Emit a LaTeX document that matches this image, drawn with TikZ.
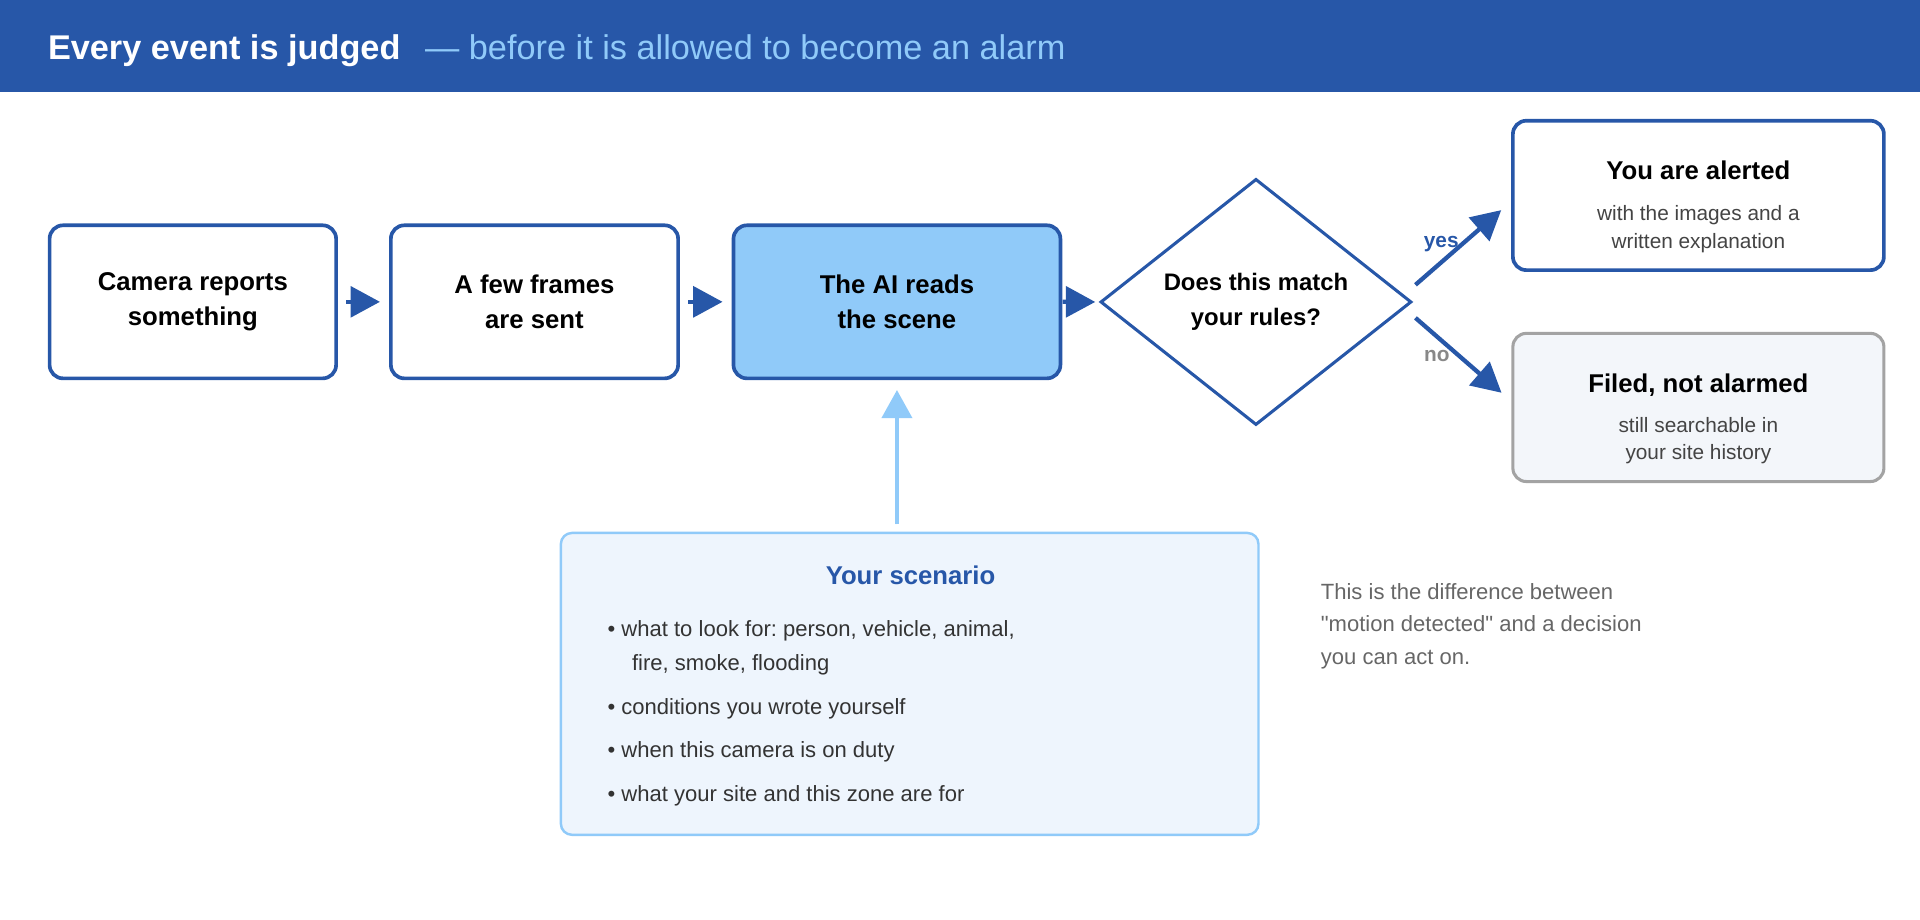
\documentclass[tikz,border=0pt]{standalone}
\usepackage{fontspec}
\setmainfont{Liberation Sans}[Ligatures=TeXOff]
\usetikzlibrary{arrows.meta,shapes.geometric}
\definecolor{hblue}{HTML}{2757A8}
\definecolor{lblue}{HTML}{90CAF9}
\definecolor{scenfill}{HTML}{EEF5FD}
\definecolor{filedfill}{HTML}{F3F6FA}
\definecolor{filedgray}{HTML}{A3A3A3}
\definecolor{subgray}{HTML}{444444}
\definecolor{notegray}{HTML}{666666}
\definecolor{bulletc}{HTML}{333333}
\definecolor{nogray}{HTML}{888888}
\frenchspacing
\begin{document}
\begin{tikzpicture}[x=1pt,y=-1pt,
  stepbox/.style={draw=hblue, line width=3pt, rounded corners=11pt, fill=white,
    minimum height=125pt, align=center, inner sep=0pt,
    font=\fontsize{21}{29}\selectfont\bfseries, text=black},
  outbox/.style={draw=hblue, line width=3pt, rounded corners=11pt, fill=white,
    minimum width=303pt, minimum height=122pt, inner sep=0pt},
  ttl/.style={inner sep=0pt, anchor=base, font=\fontsize{21}{25}\selectfont\bfseries, text=black},
  sub/.style={inner sep=0pt, anchor=base, font=\fontsize{17}{21}\selectfont, text=subgray},
  bul/.style={inner sep=0pt, anchor=base west, font=\fontsize{18}{22}\selectfont, text=bulletc},
  note/.style={inner sep=0pt, anchor=base west, font=\fontsize{18}{22}\selectfont, text=notegray},
  arr/.style={draw=hblue, fill=hblue, line width=3.5pt, -{Triangle[length=24pt,width=25pt]}},
  larr/.style={draw=lblue, fill=lblue, line width=3.5pt, -{Triangle[length=23pt,width=24.5pt]}},
  lab/.style={inner sep=0pt, font=\fontsize{17}{20}\selectfont\bfseries}
]
\useasboundingbox (0,0) rectangle (1568,751.33);
\fill[hblue] (0,0) rectangle (1568,75);
\node[inner sep=0pt, anchor=base west, font=\fontsize{28}{32}\selectfont\bfseries, text=white] (title) at (39,49) {Every event is judged};
\node[inner sep=0pt, anchor=base west, font=\fontsize{28}{32}\selectfont, text=lblue] (subtitle) at (347,49) {— before it is allowed to become an alarm};

% steps
\node[stepbox, minimum width=234pt] (b1) at (157.5,246.5) {Camera reports\\something};
\node[stepbox, minimum width=234.6pt] (b2) at (436.5,246.5) {A few frames\\are sent};
\node[stepbox, minimum width=267pt, fill=lblue] (b3) at (732.5,246.5) {The AI reads\\the scene};
\node[diamond, draw=hblue, line width=2.5pt, fill=white, aspect=1.25, inner sep=0pt,
  minimum width=254pt, minimum height=201pt, align=center,
  font=\fontsize{19.5}{28}\selectfont\bfseries, text=black] (dec) at (1025.7,246.6) {Does this match\\your rules?};

% outcomes
\node[outbox] (alert) at (1387,159.6) {};
\node[ttl] (alertt) at (1387,146.6) {You are alerted};
\node[sub] (alerts1) at (1387,180.1) {with the images and a};
\node[sub] (alerts2) at (1387,203.1) {written explanation};

\node[outbox, draw=filedgray, line width=2.5pt, fill=filedfill, minimum height=121pt] (filed) at (1387,332.75) {};
\node[ttl] (filedt) at (1387,320.6) {Filed, not alarmed};
\node[sub] (fileds1) at (1387,353.1) {still searchable in};
\node[sub] (fileds2) at (1387,375.1) {your site history};

% connectors
\draw[arr] ([xshift=6.6pt]b1.east) -- ([xshift=-7.4pt]b2.west);
\draw[arr] ([xshift=6.6pt]b2.east) -- ([xshift=-7.4pt]b3.west);
\draw[arr] ([xshift=0.3pt]b3.east) -- ([xshift=-3pt]dec.west);
\draw[arr] ([shift={(2,-14)}]dec.east) -- ([shift={(-8,12)}]alert.west);
\draw[arr] ([shift={(2,13)}]dec.east) -- ([shift={(-8,-12)}]filed.west);
\node[lab, text=hblue] (yes) at (1177,199) {yes};
\node[lab, text=nogray] (no) at (1173.5,291) {no};

% scenario
\node[draw=lblue, line width=2pt, fill=scenfill, rounded corners=9pt,
  minimum width=569.7pt, minimum height=246.5pt, inner sep=0pt] (scen) at (742.9,558.5) {};
\node[inner sep=0pt, anchor=base, font=\fontsize{21}{25}\selectfont\bfseries, text=hblue] (scent) at (743.6,477) {Your scenario};
\node[bul] (bu1) at (496,519.5) {• what to look for: person, vehicle, animal,};
\node[bul] (bu1b) at (516,547.5) {fire, smoke, flooding};
\node[bul] (bu2) at (496,583.5) {• conditions you wrote yourself};
\node[bul] (bu3) at (496,618.5) {• when this camera is on duty};
\node[bul] (bu4) at (496,654.5) {• what your site and this zone are for};
\draw[larr] ([yshift=6pt]b3.south |- scen.north) -- ([yshift=-8pt]b3.south);

% side note
\node[note] (n1) at (1078.5,489.5) {This is the difference between};
\node[note] (n2) at (1078.5,516) {"motion detected" and a decision};
\node[note] (n3) at (1078.5,542.5) {you can act on.};
\end{tikzpicture}
\end{document}
